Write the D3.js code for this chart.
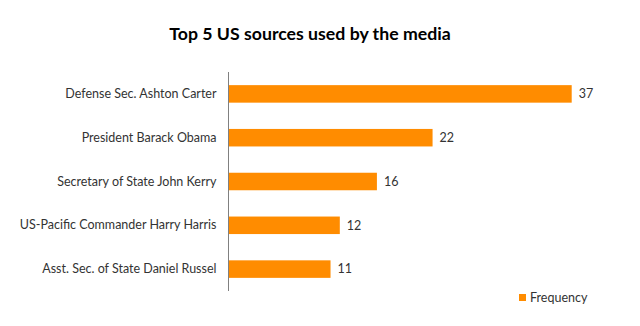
<!DOCTYPE html>
<html>
<head>
<meta charset="utf-8">
<script src="https://cdn.jsdelivr.net/npm/d3@7"></script>
<style>
  html, body { margin: 0; padding: 0; background: #fff; }
  svg { display: block; }
  text { font-family: Lato, "Open Sans", sans-serif; }
</style>
</head>
<body>
<svg id="chart" width="640" height="326"></svg>
<script>
// Sources and how often each was quoted
const sources = [
  "Defense Sec. Ashton Carter",
  "President Barack Obama",
  "Secretary of State John Kerry",
  "US-Pacific Commander Harry Harris",
  "Asst. Sec. of State Daniel Russel"
];
const frequency = [37, 22, 16, 12, 11];
const seriesName = "Frequency";
const chartTitle = "Top 5 US sources used by the media";

const barColor = "#FF8C00";
const textColor = "#333333";
const labelSize = 12.5;

const svg = d3.select("#chart");
const margin = { top: 72, left: 228.5 };
const plotH = 219;

const x = d3.scaleLinear().domain([0, 37]).range([margin.left, 571.7]);
const y = d3.scaleBand()
  .domain(sources)
  .range([margin.top, margin.top + plotH])
  .paddingInner(0.6)
  .paddingOuter(0.3);

const rows = sources.map((s, i) => ({ name: s, value: frequency[i] }));

// Title
svg.append("text")
  .attr("x", 310).attr("y", 40)
  .attr("text-anchor", "middle")
  .attr("font-size", 17.7)
  .attr("font-weight", "bold")
  .attr("fill", "#000")
  .text(chartTitle);

// Bars
svg.append("g").selectAll("rect")
  .data(rows)
  .join("rect")
  .attr("x", x(0))
  .attr("y", d => y(d.name))
  .attr("width", d => x(d.value) - x(0))
  .attr("height", y.bandwidth())
  .attr("fill", barColor);

// Value labels
svg.append("g").selectAll("text")
  .data(rows)
  .join("text")
  .attr("x", d => x(d.value) + 7)
  .attr("y", d => y(d.name) + y.bandwidth() / 2)
  .attr("dy", "0.35em")
  .attr("font-size", labelSize)
  .attr("fill", textColor)
  .text(d => d.value);

// Category axis
const yAxis = d3.axisLeft(y).tickSize(0).tickPadding(12);
const gy = svg.append("g")
  .attr("transform", `translate(${margin.left},0)`)
  .call(yAxis);
gy.select(".domain").attr("stroke", "#808080").attr("d", `M0,${margin.top}V${margin.top + plotH}`);
gy.selectAll("text")
  .attr("font-size", labelSize)
  .attr("fill", textColor)
  .style("font-family", "Lato, 'Open Sans', sans-serif");

// Legend
const legend = svg.append("g").attr("transform", "translate(519,294)");
legend.append("rect").attr("width", 7).attr("height", 7).attr("fill", barColor);
legend.append("text")
  .attr("x", 11).attr("y", 3.5).attr("dy", "0.35em")
  .attr("font-size", labelSize).attr("fill", textColor)
  .text(seriesName);
</script>
</body>
</html>
